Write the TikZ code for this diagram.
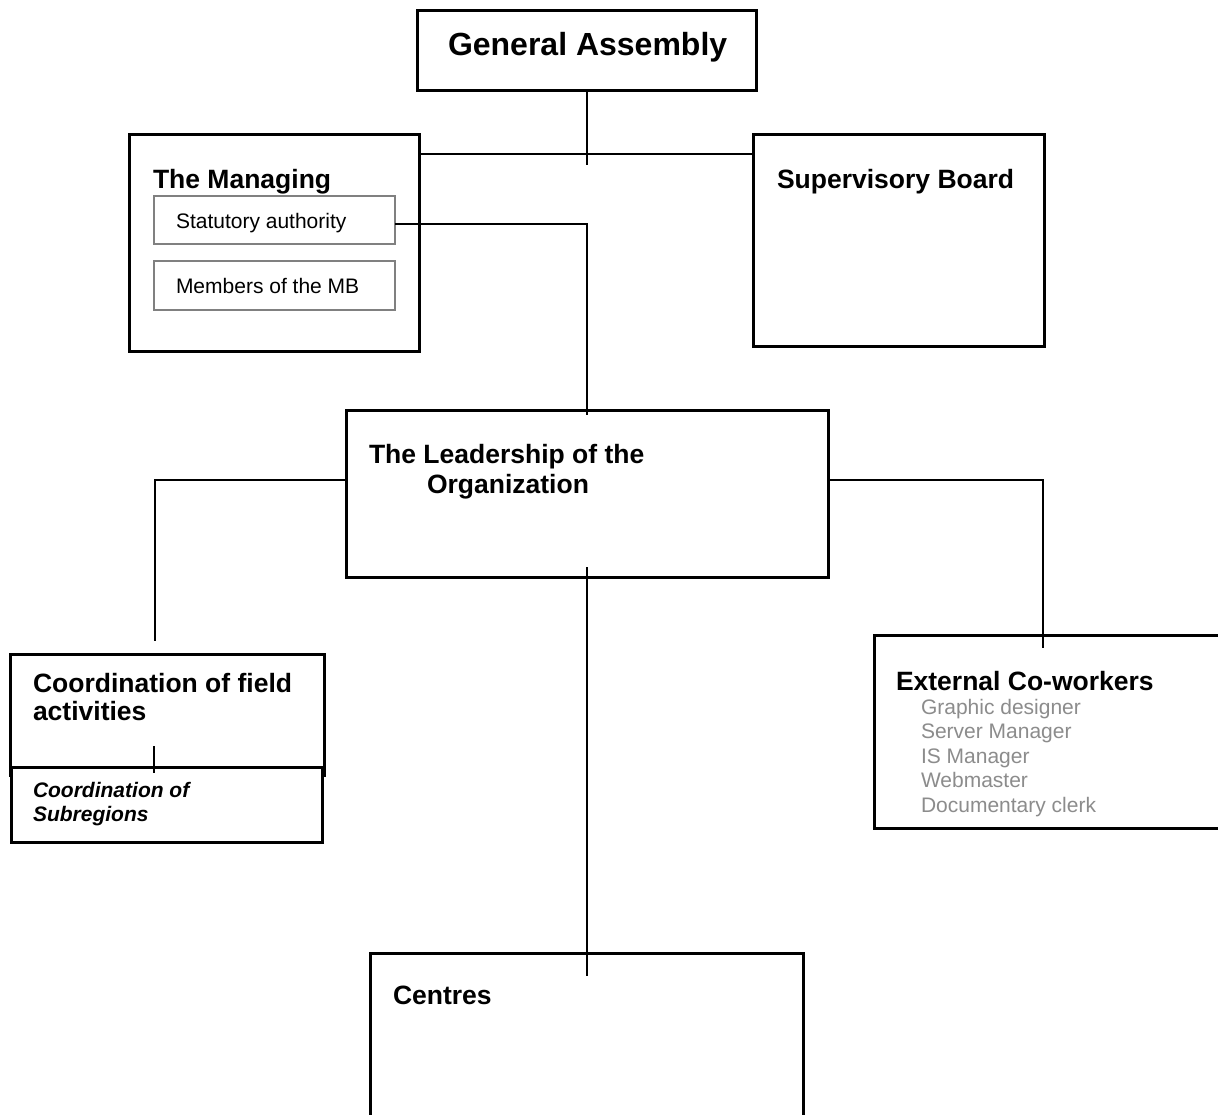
\documentclass[tikz,border=0pt]{standalone}
\usepackage{fontspec}
\setmainfont{Liberation Sans}
\begin{document}
\begin{tikzpicture}[x=1pt,y=-1pt,
  box/.style={draw=black,line width=3pt,fill=white,inner sep=0pt,outer sep=0pt,anchor=north west},
  subbox/.style={draw=black!50,line width=2pt,fill=white,inner sep=0pt,outer sep=0pt,anchor=north west},
  conn/.style={draw=black,line width=1.6pt},
  txt/.style={anchor=base west,inner sep=0pt,outer sep=0pt},
  big/.style={txt,font=\fontsize{32}{36}\selectfont\bfseries},
  head/.style={txt,font=\fontsize{26.5}{30}\selectfont\bfseries},
  small/.style={txt,font=\fontsize{21}{24}\selectfont},
  smallbi/.style={txt,font=\fontsize{21}{24}\selectfont\bfseries\itshape},
  grey/.style={txt,font=\fontsize{21}{24}\selectfont,text=black!45}]
\useasboundingbox (0,0) rectangle (1218,1114);
% boxes
\node[box,minimum width=339pt,minimum height=80pt] (ga) at (417.5,10.5) {};
\node[box,minimum width=290pt,minimum height=217pt] (mgr) at (129.5,134.5) {};
\node[subbox,minimum width=241pt,minimum height=48pt] (stat) at (154,196) {};
\node[subbox,minimum width=241pt,minimum height=49pt] (memb) at (154,261) {};
\node[box,minimum width=291pt,minimum height=212pt] (sup) at (753.5,134.5) {};
\node[box,minimum width=482pt,minimum height=167pt] (ldr) at (346.5,410.5) {};
\node[box,minimum width=314pt,minimum height=121pt] (coord) at (10.5,654.5) {};
\node[box,minimum width=311pt,minimum height=75pt] (subr) at (11.5,767) {};
\node[box,minimum width=360pt,minimum height=193pt] (ext) at (874.5,635.5) {};
\node[box,minimum width=433pt,minimum height=175pt] (ctr) at (370.5,953.5) {};
% texts
\node[big] (tga) at (448,55) {General Assembly};
\node[head] (tmgr) at (153,188) {The Managing};
\node[small] (tstat) at (176,228) {Statutory authority};
\node[small] (tmemb) at (176,293) {Members of the MB};
\node[head] (tsup) at (777,188) {Supervisory Board};
\node[head] (tldr1) at (369,463) {The Leadership of the};
\node[head] (tldr2) at (427,493) {Organization};
\node[head] (tco1) at (33,692) {Coordination of field};
\node[head] (tco2) at (33,720) {activities};
\node[smallbi] (tsr1) at (33,797) {Coordination of};
\node[smallbi] (tsr2) at (33,821) {Subregions};
\node[head] (text) at (896,690) {External Co-workers};
\node[grey] (te1) at (921,714) {Graphic designer};
\node[grey] (te2) at (921,738.5) {Server Manager};
\node[grey] (te3) at (921,763) {IS Manager};
\node[grey] (te4) at (921,787.5) {Webmaster};
\node[grey] (te5) at (921,812.5) {Documentary clerk};
\node[head] (tctr) at (393,1004) {Centres};
% connector points
\coordinate (gaend) at (587,165);
\coordinate (j1) at (587,154);
\coordinate (s1) at (587,224);
\coordinate (s2) at (587,415);
\coordinate (l1) at (155,480);
\coordinate (l2) at (155,641);
\coordinate (r1) at (1043,480);
\coordinate (r2) at (1043,648);
\coordinate (c1) at (587,567);
\coordinate (c2) at (587,976);
\coordinate (t1) at (154,746);
\coordinate (t2) at (154,773);
% connectors
\draw[conn] (ga.south -| gaend) -- (gaend);
\draw[conn] (mgr.east |- j1) -- (sup.west |- j1);
\draw[conn] (stat.east |- s1) -- (s1) -- (s2);
\draw[conn] (ldr.west |- l1) -- (l1) -- (l2);
\draw[conn] (ldr.east |- r1) -- (r1) -- (r2);
\draw[conn] (c1) -- (c2);
\draw[conn] (t1) -- (t2);
\end{tikzpicture}
\end{document}
